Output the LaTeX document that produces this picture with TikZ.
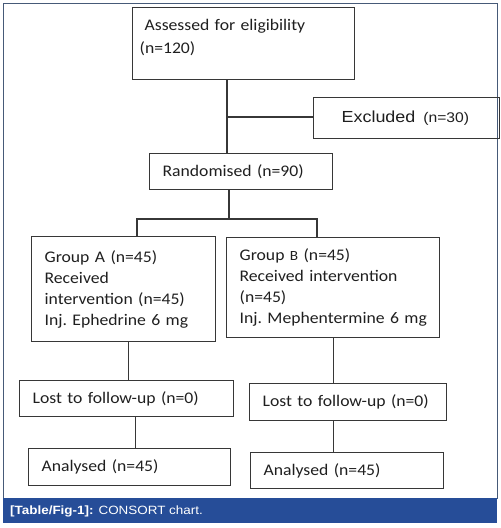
\documentclass[tikz,border=0pt]{standalone}
\usepackage{fontspec}
\setmainfont{Carlito}[FakeStretch=1.09]
\newfontfamily\arialfont{Liberation Sans}[FakeStretch=1.12]
\usetikzlibrary{positioning}
\definecolor{boxgrey}{RGB}{55,55,55}
\definecolor{bandblue}{RGB}{38,77,152}
\definecolor{framegrey}{RGB}{70,90,120}
\tikzset{
  cbox/.style ={rectangle, draw=boxgrey, line width=1.3pt, anchor=north west,
                align=left, inner xsep=13pt, inner ysep=0pt, text=black!88,
                font=\fontsize{16.2}{21}\selectfont\frenchspacing},
  link/.style ={draw=boxgrey, line width=1.3pt},
}

\begin{document}
\begin{tikzpicture}[x=1pt, y=-1pt]
\useasboundingbox (0,0) rectangle (501,528);
% frame and caption band
\draw[framegrey, line width=0.8pt] (3.5,3.5) rectangle (497,498);
\fill[bandblue] (3,498) rectangle (497,523);
\node[anchor=west, inner sep=0pt, text=white, font=\arialfont\fontsize{12}{14}\selectfont] (cap) at (10,511)
  {\textbf{[Table/Fig-1]:} CONSORT chart.};

\node[cbox, minimum width=222, minimum height=72, text width=208, inner xsep=7pt, text depth=37pt] (assess) at (132,7)
  {\hspace*{5pt}Assessed for eligibility\\[2pt](n=120)};
\node[cbox, minimum width=174, minimum height=41, text width=130, inner xsep=28pt] (excl) at (313,97)
  {\arialfont\fontsize{16}{18}\selectfont Excluded\hspace{8pt}{\fontsize{14}{16}\selectfont(n=30)}};
\node[cbox, minimum width=183, minimum height=36, text width=157] (rand) at (149,153) {Randomised (n=90)};

\node[cbox, minimum width=184, minimum height=105, text width=158] (grpA) at (31,236)
  {Group A (n=45)\\Received\\intervention (n=45)\\Inj. Ephedrine 6 mg};
\node[cbox, minimum width=213, minimum height=100, text width=187] (grpB) at (226,237)
  {Group {\fontsize{14}{21}\selectfont B} (n=45)\\Received intervention\\(n=45)\\\mbox{Inj. Mephentermine 6 mg}};

\node[cbox, minimum width=214, minimum height=36, text width=188] (lostA) at (19,380) {Lost to follow-up (n=0)};
\node[cbox, minimum width=202, minimum height=37, text width=176] (anaA) at (28,448) {Analysed (n=45)};
\node[cbox, minimum width=197, minimum height=37, text width=171] (lostB) at (249,383) {Lost to follow-up (n=0)};
\node[cbox, minimum width=193, minimum height=36, text width=167] (anaB) at (250,452) {Analysed (n=45)};

% branch points
\coordinate (split) at (227,117);
\coordinate (fork) at (229,219);
\coordinate (forkA) at (137,219);
\coordinate (forkB) at (317,219);

\draw[link] (assess.south -| split) -- (rand.north -| split);
\draw[link] (split) -- (split -| excl.west);
\draw[link] (rand.south -| fork) -- (fork);
\draw[link] (grpA.north -| forkA) -- (forkA) -- (forkB) -- (grpB.north -| forkB);
\draw[link] ([xshift=5pt]grpA.south) -- ([xshift=5pt]grpA.south |- lostA.north);
\draw[link] ([xshift=9pt]lostA.south) -- ([xshift=9pt]lostA.south |- anaA.north);
\draw[link] (grpB.south) -- (grpB.south |- lostB.north);
\draw[link] (lostB.south -| grpB.south) -- (anaB.north -| grpB.south);
\end{tikzpicture}
\end{document}
